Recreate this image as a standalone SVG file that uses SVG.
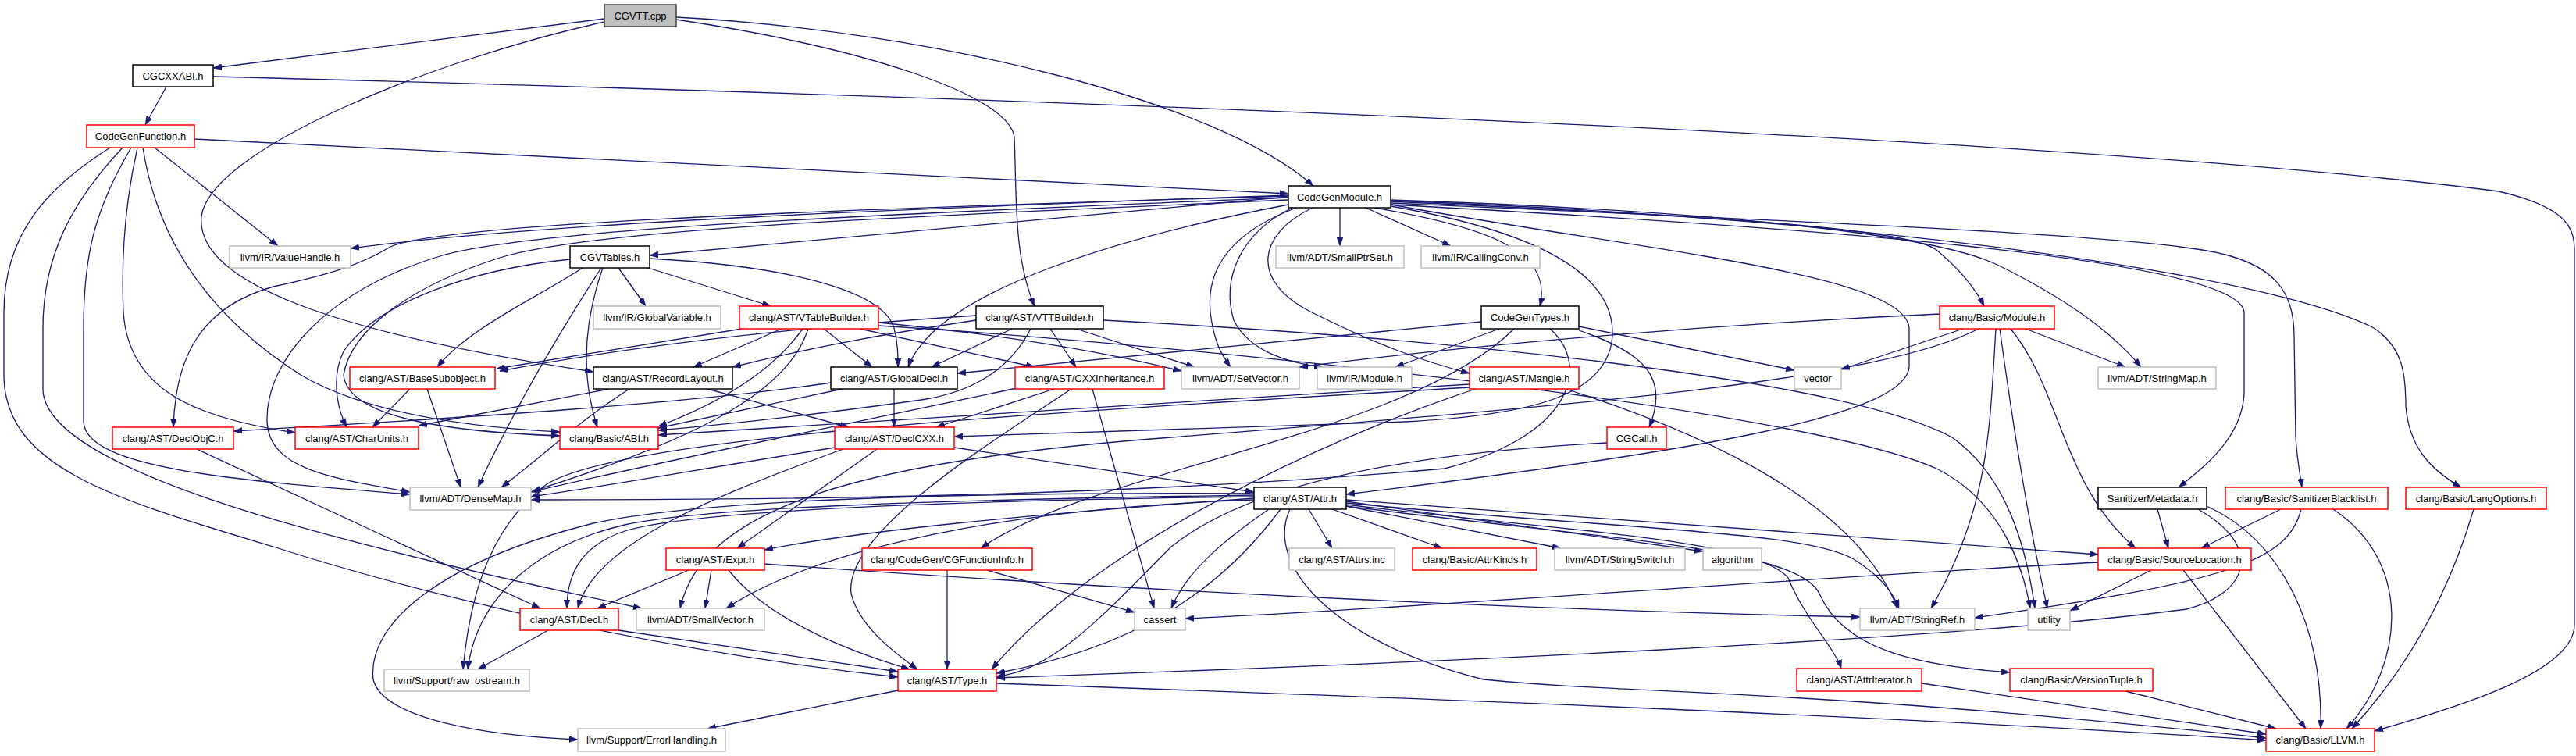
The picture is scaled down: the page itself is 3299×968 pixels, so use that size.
<svg xmlns="http://www.w3.org/2000/svg" width="3299" height="968" viewBox="0 0 3299 968">
<style>
.e path{fill:none;stroke:#191970;stroke-width:1.3;marker-end:url(#arr)}
.n rect{fill:#ffffff;stroke-width:1.5}
.nb rect{stroke:#000000}
.nr rect{stroke:#ff0000}
.ng rect{stroke:#bfbfbf}
.nc rect{fill:#bfbfbf;stroke:#404040}
.n text{font-family:"Liberation Sans",Arial,sans-serif;font-size:13px;text-anchor:middle;fill:#000000}
</style>
<defs>
<marker id="arr" markerUnits="userSpaceOnUse" markerWidth="11" markerHeight="8" viewBox="0 0 11 8" refX="11" refY="4" orient="auto">
<path d="M0,0 L11,4 L0,8 z" fill="#191970" stroke="#191970" stroke-width="0.5"/>
</marker>
</defs>
<rect x="0" y="0" width="3299" height="968" fill="#ffffff"/>
<g id="edges" class="e">
<path d="M774,24 L273,87"/>
<path d="M774,28 C560,75 270,190 258,277 C250,360 420,425 760,476"/>
<path d="M866,22 C1200,40 1560,130 1682,238"/>
<path d="M866,25 C1100,60 1290,120 1299,175 C1302,250 1298,330 1325,392"/>
<path d="M213,111 L186,160"/>
<path d="M273,98 C1500,130 2700,180 3200,245 C3285,265 3297,290 3297,320 L3297,800 C3297,860 3150,905 3041,936"/>
<path d="M249,178 L1650,248"/>
<path d="M198,189 L356,315"/>
<path d="M141,189 C60,240 5,300 5,400 L5,480 C5,600 150,640 350,700 C600,780 900,840 1150,867"/>
<path d="M157,189 C90,260 55,330 55,420 L55,500 C60,600 400,690 822,779"/>
<path d="M168,189 C120,270 107,330 107,420 L107,540 C110,600 300,615 525,633"/>
<path d="M176,189 C160,260 155,330 158,400 C165,500 250,535 378,554"/>
<path d="M183,189 C200,300 260,400 385,480 C470,530 600,547 717,553"/>
<path d="M1650,252 L832,327"/>
<path d="M1650,250 C1200,266 700,284 449,318"/>
<path d="M1650,251 C1000,270 560,288 500,316 C460,340 420,352 350,367 C262,392 225,450 222,547"/>
<path d="M1650,253 C1100,276 700,292 570,326 C420,370 340,460 342,540 C345,600 420,612 525,630"/>
<path d="M1781,262 C2100,320 2440,350 2445,420 L2445,470 C2440,530 2200,575 1724,633"/>
<path d="M1781,264 C1990,300 2068,360 2065,430 C2060,510 1950,532 1800,540 L1222,559"/>
<path d="M1650,262 C1450,300 1200,370 1163,470"/>
<path d="M1681,266 C1610,300 1600,360 1680,400 C1760,440 1820,462 1882,478"/>
<path d="M1716,266 L1716,315"/>
<path d="M1749,266 L1858,315"/>
<path d="M1660,266 C1570,300 1545,350 1550,400 C1555,440 1565,455 1576,470"/>
<path d="M1655,266 C1585,300 1565,360 1580,410 C1600,450 1650,465 1694,470"/>
<path d="M1760,266 C1900,290 1990,320 1972,392"/>
<path d="M1781,258 C2150,275 2440,290 2480,320 C2510,345 2530,370 2541,392"/>
<path d="M1781,256 C2200,270 2480,300 2560,340 C2640,380 2700,420 2742,470"/>
<path d="M1781,262 C2300,290 2870,330 2874,400 L2874,500 C2874,560 2820,600 2790,624"/>
<path d="M1781,260 C2350,285 2700,300 2820,320 C2920,335 2938,380 2938,430 L2940,560 C2942,590 2946,610 2948,624"/>
<path d="M1781,257 C2400,280 2900,350 3040,420 C3078,445 3081,480 3081,520 C3085,570 3110,600 3152,624"/>
<path d="M1650,256 C1100,280 760,294 640,330 C530,365 450,420 440,480 C445,530 550,552 717,558"/>
<path d="M730,332 C600,345 480,390 440,450 C425,480 430,520 444,547"/>
<path d="M746,343 C690,380 600,420 560,470"/>
<path d="M770,343 C720,420 660,520 612,624"/>
<path d="M772,343 C752,400 740,470 765,547"/>
<path d="M792,343 L827,392"/>
<path d="M830,343 L987,392"/>
<path d="M832,331 C1000,340 1130,370 1145,420 C1150,440 1150,455 1150,470"/>
<path d="M950,421 L636,472"/>
<path d="M1001,421 L888,470"/>
<path d="M1028,421 C1000,460 950,505 843,546"/>
<path d="M1035,421 C1010,500 900,560 682,629"/>
<path d="M1055,421 L1117,470"/>
<path d="M1101,421 L1325,470"/>
<path d="M1125,413 C1300,430 1420,452 1513,475"/>
<path d="M1125,417 C1500,440 2300,520 2480,600 C2560,640 2590,720 2600,779"/>
<path d="M1250,404 C1000,420 800,445 640,475"/>
<path d="M1250,410 C1150,425 1050,442 938,470"/>
<path d="M1296,421 L1193,470"/>
<path d="M1320,421 C1300,460 1260,500 1180,512 C1050,530 950,542 843,551"/>
<path d="M1345,421 L1378,470"/>
<path d="M1378,421 L1530,470"/>
<path d="M1413,410 C1800,430 2350,480 2500,560 C2570,610 2595,700 2606,779"/>
<path d="M780,498 L536,545"/>
<path d="M806,498 C740,540 700,580 642,624"/>
<path d="M906,498 L1087,547"/>
<path d="M525,498 L477,547"/>
<path d="M547,498 L590,624"/>
<path d="M1145,498 L1145,547"/>
<path d="M1064,490 C900,515 600,535 299,552"/>
<path d="M1079,498 L843,548"/>
<path d="M1302,497 C1100,540 850,590 680,630"/>
<path d="M1350,498 L1199,547"/>
<path d="M1372,498 C1280,560 1080,680 1090,760 C1100,800 1140,832 1175,857"/>
<path d="M1399,498 L1478,779"/>
<path d="M1069,573 C900,600 780,622 680,636"/>
<path d="M1080,575 C900,640 760,700 740,779"/>
<path d="M1123,575 L944,702"/>
<path d="M1222,573 L1606,630"/>
<path d="M252,575 L692,779"/>
<path d="M882,730 L765,779"/>
<path d="M911,730 L903,779"/>
<path d="M933,730 C980,790 1080,832 1165,857"/>
<path d="M979,722 C1500,760 2000,782 2382,790"/>
<path d="M702,807 L612,857"/>
<path d="M792,807 L1150,860"/>
<path d="M1882,492 C1500,515 1100,540 843,557"/>
<path d="M1882,496 C1300,530 800,560 700,620 C620,680 600,780 593,857"/>
<path d="M1890,498 C1700,560 1400,700 1270,857"/>
<path d="M2005,498 C2200,560 2380,650 2430,779"/>
<path d="M1897,412 C1600,440 1400,460 1226,478"/>
<path d="M1920,421 L1787,470"/>
<path d="M1939,421 C1800,560 1400,600 1256,702"/>
<path d="M1985,421 C2040,470 2010,560 1850,600 C1400,640 900,640 680,640"/>
<path d="M2022,418 L2298,474"/>
<path d="M2022,423 C2100,450 2140,480 2112,547"/>
<path d="M2058,567 C1800,580 1600,620 1500,700 C1420,780 1350,860 1276,866"/>
<path d="M1213,730 L1213,857"/>
<path d="M1264,730 L1453,784"/>
<path d="M1676,652 L1706,702"/>
<path d="M1706,652 L1847,702"/>
<path d="M1724,648 L1999,702"/>
<path d="M1724,642 L2181,706"/>
<path d="M1724,640 C2100,670 2400,690 2687,710"/>
<path d="M1724,644 C2100,680 2330,680 2380,720 C2410,740 2425,760 2432,779"/>
<path d="M1652,652 C1620,720 1700,820 1900,870 C2100,890 2300,880 2902,945"/>
<path d="M1724,646 C2000,680 2250,690 2290,740 C2310,790 2350,830 2358,856"/>
<path d="M1724,648 C2050,690 2300,700 2330,760 C2360,830 2450,852 2574,861"/>
<path d="M1640,652 C1560,760 1450,830 1276,862"/>
<path d="M1606,636 C1300,640 900,650 800,680 C740,700 726,740 726,779"/>
<path d="M1606,638 C1300,660 1100,680 979,704"/>
<path d="M1606,640 C1300,650 1050,700 930,779"/>
<path d="M1606,632 C1200,630 900,640 760,670 C560,720 470,800 478,870 C490,920 620,942 740,947"/>
<path d="M1606,634 C1200,640 900,650 800,672 C680,700 610,770 599,857"/>
<path d="M1625,652 C1570,690 1520,730 1500,779"/>
<path d="M2484,402 C2200,415 1900,440 1664,470"/>
<path d="M2514,421 L2358,473"/>
<path d="M2556,421 C2548,550 2548,650 2473,779"/>
<path d="M2561,421 C2580,560 2600,680 2622,779"/>
<path d="M2575,421 C2640,500 2640,620 2735,702"/>
<path d="M2594,421 L2722,470"/>
<path d="M2534,421 C2400,490 2000,520 1500,560 C1100,590 900,650 871,779"/>
<path d="M2763,652 L2777,702"/>
<path d="M2826,648 C2920,690 2975,800 2972,933"/>
<path d="M2815,652 C2900,700 2880,760 2800,780 C2500,820 1800,850 1276,868"/>
<path d="M2921,652 L2819,702"/>
<path d="M2947,652 C2930,720 2850,745 2529,791"/>
<path d="M2988,652 C3090,720 3080,850 3005,933"/>
<path d="M3168,652 C3130,780 3070,870 3012,933"/>
<path d="M2796,730 L2953,933"/>
<path d="M2755,730 L2651,782"/>
<path d="M2687,720 C2300,740 1800,780 1518,792"/>
<path d="M2461,875 L2902,940"/>
<path d="M2722,885 L2915,933"/>
<path d="M1276,875 C1700,890 2400,915 2902,948"/>
<path d="M1150,884 L906,933"/>
</g>
<g id="node-cgvtt" class="n nc"><rect x="774" y="6" width="92" height="28"/><text x="820" y="25">CGVTT.cpp</text></g>
<g id="node-cgcxxabi" class="n nb"><rect x="170" y="83" width="103" height="28"/><text x="221.5" y="102">CGCXXABI.h</text></g>
<g id="node-codegenfunction" class="n nr"><rect x="111" y="160" width="138" height="29"/><text x="180" y="179">CodeGenFunction.h</text></g>
<g id="node-codegenmodule" class="n nb"><rect x="1650" y="238" width="131" height="28"/><text x="1715.5" y="257">CodeGenModule.h</text></g>
<g id="node-valuehandle" class="n ng"><rect x="294" y="315" width="155" height="28"/><text x="371.5" y="334">llvm/IR/ValueHandle.h</text></g>
<g id="node-cgvtables" class="n nb"><rect x="730" y="315" width="102" height="28"/><text x="781" y="334">CGVTables.h</text></g>
<g id="node-smallptrset" class="n ng"><rect x="1634" y="315" width="164" height="28"/><text x="1716" y="334">llvm/ADT/SmallPtrSet.h</text></g>
<g id="node-callingconv" class="n ng"><rect x="1820" y="315" width="152" height="28"/><text x="1896" y="334">llvm/IR/CallingConv.h</text></g>
<g id="node-globalvariable" class="n ng"><rect x="760" y="392" width="163" height="29"/><text x="841.5" y="411">llvm/IR/GlobalVariable.h</text></g>
<g id="node-vtablebuilder" class="n nr"><rect x="947" y="392" width="178" height="29"/><text x="1036" y="411">clang/AST/VTableBuilder.h</text></g>
<g id="node-vttbuilder" class="n nb"><rect x="1250" y="392" width="163" height="29"/><text x="1331.5" y="411">clang/AST/VTTBuilder.h</text></g>
<g id="node-codegentypes" class="n nb"><rect x="1897" y="392" width="125" height="29"/><text x="1959.5" y="411">CodeGenTypes.h</text></g>
<g id="node-basicmodule" class="n nr"><rect x="2484" y="392" width="147" height="29"/><text x="2557.5" y="411">clang/Basic/Module.h</text></g>
<g id="node-basesubobject" class="n nr"><rect x="448" y="470" width="186" height="28"/><text x="541" y="489">clang/AST/BaseSubobject.h</text></g>
<g id="node-recordlayout" class="n nb"><rect x="760" y="470" width="178" height="28"/><text x="849" y="489">clang/AST/RecordLayout.h</text></g>
<g id="node-globaldecl" class="n nb"><rect x="1064" y="470" width="162" height="28"/><text x="1145" y="489">clang/AST/GlobalDecl.h</text></g>
<g id="node-cxxinheritance" class="n nr"><rect x="1300" y="470" width="191" height="28"/><text x="1395.5" y="489">clang/AST/CXXInheritance.h</text></g>
<g id="node-setvector" class="n ng"><rect x="1513" y="470" width="151" height="28"/><text x="1588.5" y="489">llvm/ADT/SetVector.h</text></g>
<g id="node-irmodule" class="n ng"><rect x="1687" y="470" width="121" height="28"/><text x="1747.5" y="489">llvm/IR/Module.h</text></g>
<g id="node-mangle" class="n nr"><rect x="1882" y="470" width="140" height="28"/><text x="1952" y="489">clang/AST/Mangle.h</text></g>
<g id="node-vector" class="n ng"><rect x="2298" y="470" width="60" height="28"/><text x="2328" y="489">vector</text></g>
<g id="node-stringmap" class="n ng"><rect x="2687" y="470" width="151" height="28"/><text x="2762.5" y="489">llvm/ADT/StringMap.h</text></g>
<g id="node-declobjc" class="n nr"><rect x="144" y="547" width="155" height="28"/><text x="221.5" y="566">clang/AST/DeclObjC.h</text></g>
<g id="node-charunits" class="n nr"><rect x="378" y="547" width="158" height="28"/><text x="457" y="566">clang/AST/CharUnits.h</text></g>
<g id="node-abi" class="n nr"><rect x="717" y="547" width="126" height="28"/><text x="780" y="566">clang/Basic/ABI.h</text></g>
<g id="node-declcxx" class="n nr"><rect x="1069" y="547" width="153" height="28"/><text x="1145.5" y="566">clang/AST/DeclCXX.h</text></g>
<g id="node-cgcall" class="n nr"><rect x="2058" y="547" width="76" height="28"/><text x="2096" y="566">CGCall.h</text></g>
<g id="node-densemap" class="n ng"><rect x="525" y="624" width="155" height="29"/><text x="602.5" y="643">llvm/ADT/DenseMap.h</text></g>
<g id="node-attr" class="n nb"><rect x="1606" y="624" width="118" height="28"/><text x="1665" y="643">clang/AST/Attr.h</text></g>
<g id="node-sanitizermetadata" class="n nb"><rect x="2687" y="624" width="139" height="28"/><text x="2756.5" y="643">SanitizerMetadata.h</text></g>
<g id="node-sanitizerblacklist" class="n nr"><rect x="2850" y="624" width="208" height="28"/><text x="2954" y="643">clang/Basic/SanitizerBlacklist.h</text></g>
<g id="node-langoptions" class="n nr"><rect x="3081" y="624" width="180" height="28"/><text x="3171" y="643">clang/Basic/LangOptions.h</text></g>
<g id="node-expr" class="n nr"><rect x="853" y="702" width="126" height="28"/><text x="916" y="721">clang/AST/Expr.h</text></g>
<g id="node-cgfunctioninfo" class="n nr"><rect x="1104" y="702" width="218" height="28"/><text x="1213" y="721">clang/CodeGen/CGFunctionInfo.h</text></g>
<g id="node-attrsinc" class="n ng"><rect x="1651" y="702" width="135" height="28"/><text x="1718.5" y="721">clang/AST/Attrs.inc</text></g>
<g id="node-attrkinds" class="n nr"><rect x="1809" y="702" width="159" height="28"/><text x="1888.5" y="721">clang/Basic/AttrKinds.h</text></g>
<g id="node-stringswitch" class="n ng"><rect x="1991" y="702" width="167" height="28"/><text x="2074.5" y="721">llvm/ADT/StringSwitch.h</text></g>
<g id="node-algorithm" class="n ng"><rect x="2181" y="702" width="75" height="28"/><text x="2218.5" y="721">algorithm</text></g>
<g id="node-sourcelocation" class="n nr"><rect x="2687" y="702" width="196" height="28"/><text x="2785" y="721">clang/Basic/SourceLocation.h</text></g>
<g id="node-decl" class="n nr"><rect x="666" y="779" width="126" height="28"/><text x="729" y="798">clang/AST/Decl.h</text></g>
<g id="node-smallvector" class="n ng"><rect x="815" y="779" width="164" height="28"/><text x="897" y="798">llvm/ADT/SmallVector.h</text></g>
<g id="node-cassert" class="n ng"><rect x="1453" y="779" width="65" height="28"/><text x="1485.5" y="798">cassert</text></g>
<g id="node-stringref" class="n ng"><rect x="2382" y="779" width="147" height="28"/><text x="2455.5" y="798">llvm/ADT/StringRef.h</text></g>
<g id="node-utility" class="n ng"><rect x="2597" y="779" width="54" height="28"/><text x="2624" y="798">utility</text></g>
<g id="node-rawostream" class="n ng"><rect x="492" y="857" width="186" height="28"/><text x="585" y="876">llvm/Support/raw_ostream.h</text></g>
<g id="node-type" class="n nr"><rect x="1150" y="857" width="126" height="28"/><text x="1213" y="876">clang/AST/Type.h</text></g>
<g id="node-attriterator" class="n nr"><rect x="2301" y="856" width="160" height="29"/><text x="2381" y="875">clang/AST/AttrIterator.h</text></g>
<g id="node-versiontuple" class="n nr"><rect x="2574" y="856" width="183" height="29"/><text x="2665.5" y="875">clang/Basic/VersionTuple.h</text></g>
<g id="node-errorhandling" class="n ng"><rect x="740" y="933" width="189" height="29"/><text x="834.5" y="952">llvm/Support/ErrorHandling.h</text></g>
<g id="node-llvm" class="n nr"><rect x="2902" y="933" width="139" height="29"/><text x="2971.5" y="952">clang/Basic/LLVM.h</text></g>
</svg>
